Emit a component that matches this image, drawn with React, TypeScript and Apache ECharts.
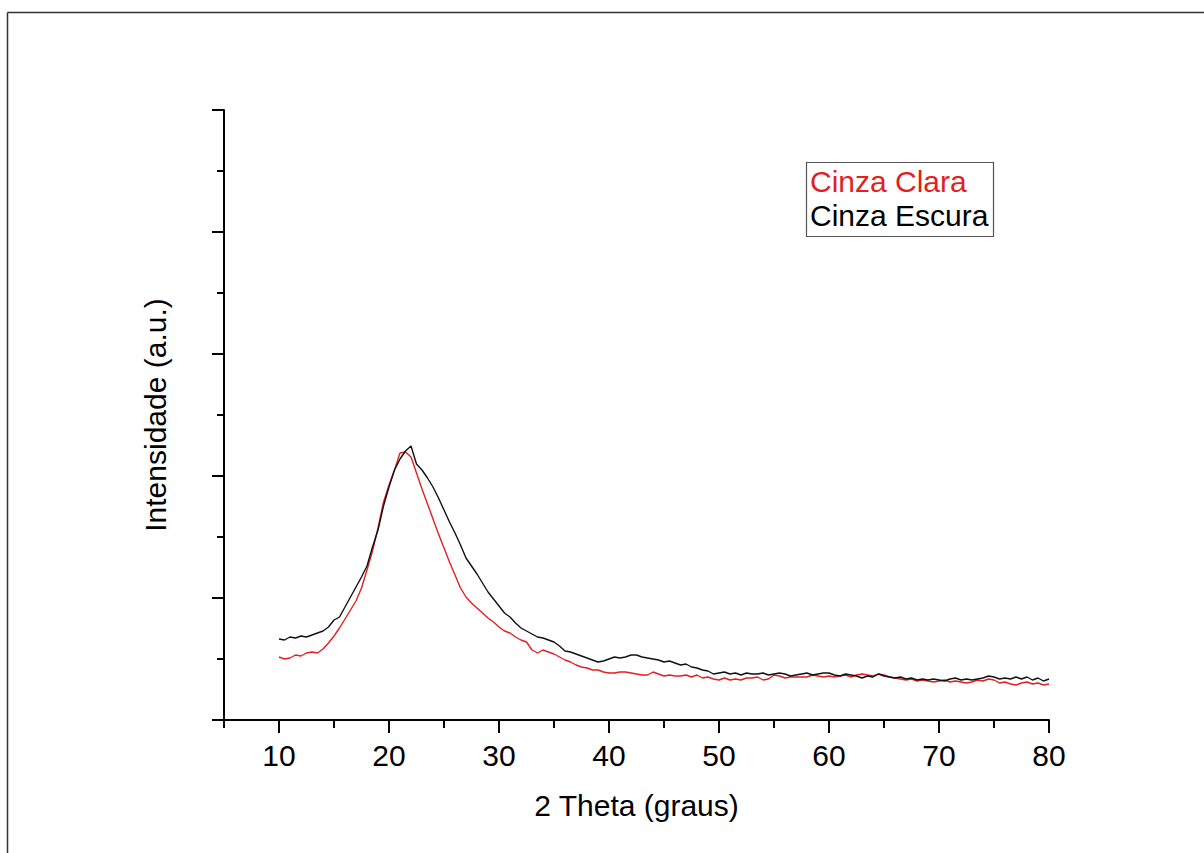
import React, { useEffect, useRef } from "react";
import * as echarts from "echarts";

const theta = [
  10, 10.5, 11, 11.5, 12, 12.5, 13, 13.5, 14, 14.5,
  15, 15.5, 16, 16.5, 17, 17.5, 18, 18.5, 19, 19.5,
  20, 20.5, 21, 21.5, 22, 22.5, 23, 23.5, 24, 24.5,
  25, 25.5, 26, 26.5, 27, 27.5, 28, 28.5, 29, 29.5,
  30, 30.5, 31, 31.5, 32, 32.5, 33, 33.5, 34, 34.5,
  35, 35.5, 36, 36.5, 37, 37.5, 38, 38.5, 39, 39.5,
  40, 40.5, 41, 41.5, 42, 42.5, 43, 43.5, 44, 44.5,
  45, 45.5, 46, 46.5, 47, 47.5, 48, 48.5, 49, 49.5,
  50, 50.5, 51, 51.5, 52, 52.5, 53, 53.5, 54, 54.5,
  55, 55.5, 56, 56.5, 57, 57.5, 58, 58.5, 59, 59.5,
  60, 60.5, 61, 61.5, 62, 62.5, 63, 63.5, 64, 64.5,
  65, 65.5, 66, 66.5, 67, 67.5, 68, 68.5, 69, 69.5,
  70, 70.5, 71, 71.5, 72, 72.5, 73, 73.5, 74, 74.5,
  75, 75.5, 76, 76.5, 77, 77.5, 78, 78.5, 79, 79.5,
  80,
];

const cinzaClara = [
  63, 61, 62, 65, 64, 67, 68, 67, 71, 77,
  84, 92, 101, 110, 119, 132, 150, 169, 192, 218,
  235, 250, 267, 268, 263, 247, 231, 216, 201, 186,
  172, 158, 145, 132, 123, 117, 112, 107, 102, 98,
  93, 89, 87, 83, 80, 78, 70, 67, 70, 68,
  66, 63, 60, 58, 55, 53, 52, 50, 50, 48,
  47, 47, 48, 48, 47, 46, 45, 45, 48, 46,
  44, 45, 44, 44, 45, 43, 45, 42, 43, 41,
  40, 42, 40, 41, 40, 42, 42, 43, 40, 41,
  45, 44, 42, 43, 43, 43, 43, 45, 44, 43,
  44, 43, 44, 45, 43, 45, 46, 45, 44, 46,
  45, 43, 42, 41, 40, 41, 39, 40, 39, 38,
  39, 40, 38, 39, 38, 37, 38, 40, 39, 41,
  40, 37, 38, 36, 35, 37, 38, 36, 37, 35,
  36,
];

const cinzaEscura = [
  81, 80, 83, 82, 84, 83, 85, 87, 89, 93,
  100, 103, 113, 123, 133, 143, 154, 173, 190, 214,
  233, 250, 261, 269, 274, 256, 250, 242, 233, 222,
  210, 198, 187, 175, 162, 154, 146, 137, 128, 121,
  114, 107, 103, 97, 92, 89, 86, 83, 82, 80,
  78, 74, 69, 68, 66, 64, 62, 60, 58, 59,
  61, 63, 62, 63, 65, 65, 63, 62, 61, 60,
  58, 59, 57, 55, 56, 53, 52, 50, 49, 46,
  47, 48, 46, 47, 45, 47, 46, 46, 47, 45,
  46, 47, 46, 44, 45, 46, 47, 45, 46, 47,
  47, 45, 44, 46, 45, 44, 42, 44, 43, 46,
  44, 43, 42, 43, 41, 42, 40, 41, 40, 41,
  40, 39, 41, 42, 40, 41, 40, 41, 42, 44,
  43, 41, 42, 41, 43, 41, 43, 40, 42, 39,
  41,
];

const xMajorTicks = [10, 20, 30, 40, 50, 60, 70, 80];
const xMinorTicks = [5, 15, 25, 35, 45, 55, 65, 75];
const seriesNames = ["Cinza Clara", "Cinza Escura"];
const seriesColors = ["#e31e24", "#111111"];

const FONT = "'Liberation Sans', Arial, Helvetica, sans-serif";

export default function App() {
  const ref = useRef<HTMLDivElement>(null);

  useEffect(() => {
    document.body.style.margin = "0";
    if (!ref.current) return;
    const chart = echarts.init(ref.current, undefined, { renderer: "svg" });
    const tickStyle = { color: "#000", width: 2 };
    const option = {
      animation: false,
      backgroundColor: "#fff",
      grid: { left: 224, top: 110, width: 825, height: 610, containLabel: false },
      xAxis: [
        {
          type: "value",
          min: 5,
          max: 80,
          position: "bottom",
          axisLine: { show: true, onZero: false, lineStyle: tickStyle },
          axisTick: { show: true, customValues: xMajorTicks, length: 13, lineStyle: tickStyle },
          axisLabel: {
            customValues: xMajorTicks,
            fontSize: 30,
            color: "#000",
            fontFamily: FONT,
            margin: 20,
          },
          splitLine: { show: false },
          name: "2 Theta (graus)",
          nameLocation: "middle",
          nameGap: 70,
          nameTextStyle: { fontSize: 30, color: "#000", fontFamily: FONT },
        },
        {
          type: "value",
          min: 5,
          max: 80,
          position: "bottom",
          axisLine: { show: false },
          axisTick: { show: true, customValues: xMinorTicks, length: 8, lineStyle: tickStyle },
          axisLabel: { show: false },
          splitLine: { show: false },
        },
      ],
      yAxis: {
        type: "value",
        min: 0,
        max: 610,
        interval: 122,
        axisLine: { show: true, onZero: false, lineStyle: tickStyle },
        axisTick: { show: true, length: 12, lineStyle: tickStyle },
        minorTick: { show: true, splitNumber: 2, length: 7, lineStyle: tickStyle },
        axisLabel: { show: false },
        splitLine: { show: false },
        minorSplitLine: { show: false },
        name: "Intensidade (a.u.)",
        nameLocation: "middle",
        nameGap: 54,
        nameTextStyle: { fontSize: 30, color: "#000", fontFamily: FONT },
      },
      series: [
        {
          name: seriesNames[0],
          type: "line",
          xAxisIndex: 0,
          showSymbol: false,
          symbol: "none",
          data: theta.map((t, i) => [t, cinzaClara[i]]),
          lineStyle: { color: seriesColors[0], width: 1.4 },
          itemStyle: { color: seriesColors[0] },
        },
        {
          name: seriesNames[1],
          type: "line",
          xAxisIndex: 0,
          showSymbol: false,
          symbol: "none",
          data: theta.map((t, i) => [t, cinzaEscura[i]]),
          lineStyle: { color: seriesColors[1], width: 1.4 },
          itemStyle: { color: seriesColors[1] },
        },
      ],
      graphic: [
        {
          type: "line",
          shape: { x1: 7.5, y1: 12.5, x2: 1204, y2: 12.5 },
          style: { stroke: "#333", lineWidth: 1.5 },
        },
        {
          type: "line",
          shape: { x1: 7.5, y1: 12.5, x2: 7.5, y2: 853 },
          style: { stroke: "#333", lineWidth: 1.5 },
        },
        {
          type: "rect",
          shape: { x: 806.5, y: 162.5, width: 187, height: 74 },
          style: { fill: "#fff", stroke: "#555", lineWidth: 1.2 },
        },
        {
          type: "text",
          x: 810,
          y: 181,
          style: {
            text: seriesNames[0],
            fill: seriesColors[0],
            font: `30px ${FONT}`,
            verticalAlign: "middle",
            align: "left",
          },
        },
        {
          type: "text",
          x: 810,
          y: 215,
          style: {
            text: seriesNames[1],
            fill: "#000",
            font: `30px ${FONT}`,
            verticalAlign: "middle",
            align: "left",
          },
        },
      ],
    };
    chart.setOption(option as any);
    return () => chart.dispose();
  }, []);

  return <div ref={ref} style={{ width: 1204, height: 853 }} />;
}
